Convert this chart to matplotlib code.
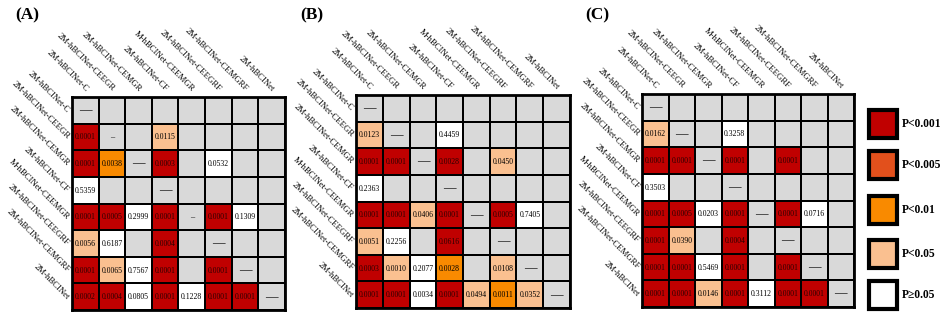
import matplotlib
matplotlib.use("Agg")
import matplotlib.pyplot as plt
from matplotlib.colors import ListedColormap
from matplotlib.patches import Rectangle
import numpy as np

plt.rcParams['font.family'] = ['Liberation Serif', 'DejaVu Serif']

labels = ["2M-hBCINet-C", "2M-hBCINet-CEEGR", "2M-hBCINet-CEMGR", "2M-hBCINet-CF",
          "M-hBCINet-CEEMGR", "2M-hBCINet-CEEGRF", "2M-hBCINet-CEMGRF", "2M-hBCINet"]

# level codes: 0 gray (not compared), 1 P<0.001, 2 P<0.005, 3 P<0.01, 4 P<0.05, 5 P>=0.05
A_text = [
    ["—", "", "", "", "", "", "", ""],
    ["0.0001", "–", "", "0.0115", "", "", "", ""],
    ["0.0001", "0.0038", "—", "0.0003", "", "0.0532", "", ""],
    ["0.5359", "", "", "—", "", "", "", ""],
    ["0.0001", "0.0005", "0.2999", "0.0001", "–", "0.0001", "0.1309", ""],
    ["0.0056", "0.6187", "", "0.0004", "", "—", "", ""],
    ["0.0001", "0.0065", "0.7567", "0.0001", "", "0.0001", "—", ""],
    ["0.0002", "0.0004", "0.0805", "0.0001", "0.1228", "0.0001", "0.0001", "—"],
]
A_level = [
    [0, 0, 0, 0, 0, 0, 0, 0],
    [1, 0, 0, 4, 0, 0, 0, 0],
    [1, 3, 0, 1, 0, 5, 0, 0],
    [5, 0, 0, 0, 0, 0, 0, 0],
    [1, 1, 5, 1, 0, 1, 5, 0],
    [4, 5, 0, 1, 0, 0, 0, 0],
    [1, 4, 5, 1, 0, 1, 0, 0],
    [1, 1, 5, 1, 5, 1, 1, 0],
]

B_text = [
    ["—", "", "", "", "", "", "", ""],
    ["0.0123", "—", "", "0.4459", "", "", "", ""],
    ["0.0001", "0.0001", "—", "0.0028", "", "0.0450", "", ""],
    ["0.2363", "", "", "—", "", "", "", ""],
    ["0.0001", "0.0001", "0.0406", "0.0001", "—", "0.0005", "0.7405", ""],
    ["0.0051", "0.2256", "", "0.0616", "", "—", "", ""],
    ["0.0003", "0.0010", "0.2077", "0.0028", "", "0.0108", "—", ""],
    ["0.0001", "0.0001", "0.0034", "0.0001", "0.0494", "0.0011", "0.0352", "—"],
]
B_level = [
    [0, 0, 0, 0, 0, 0, 0, 0],
    [4, 0, 0, 5, 0, 0, 0, 0],
    [1, 1, 0, 1, 0, 4, 0, 0],
    [5, 0, 0, 0, 0, 0, 0, 0],
    [1, 1, 4, 1, 0, 1, 5, 0],
    [4, 5, 0, 1, 0, 0, 0, 0],
    [1, 4, 5, 3, 0, 4, 0, 0],
    [1, 1, 5, 1, 4, 3, 4, 0],
]

C_text = [
    ["—", "", "", "", "", "", "", ""],
    ["0.0162", "—", "", "0.3258", "", "", "", ""],
    ["0.0001", "0.0001", "—", "0.0001", "", "0.0001", "", ""],
    ["0.3503", "", "", "—", "", "", "", ""],
    ["0.0001", "0.0005", "0.0203", "0.0001", "—", "0.0001", "0.0716", ""],
    ["0.0001", "0.0390", "", "0.0004", "", "—", "", ""],
    ["0.0001", "0.0001", "0.5469", "0.0001", "", "0.0001", "—", ""],
    ["0.0001", "0.0001", "0.0146", "0.0001", "0.3112", "0.0001", "0.0001", "—"],
]
C_level = [
    [0, 0, 0, 0, 0, 0, 0, 0],
    [4, 0, 0, 5, 0, 0, 0, 0],
    [1, 1, 0, 1, 0, 1, 0, 0],
    [5, 0, 0, 0, 0, 0, 0, 0],
    [1, 1, 5, 1, 0, 1, 5, 0],
    [1, 4, 0, 1, 0, 0, 0, 0],
    [1, 1, 5, 1, 0, 1, 0, 0],
    [1, 1, 4, 1, 5, 1, 1, 0],
]

panel_letters = ["(A)", "(B)", "(C)"]
legend_labels = ["P<0.001", "P<0.005", "P<0.01", "P<0.05", "P\u22650.05"]

colors = ["#D9D9D9", "#C00000", "#E2501C", "#F98A00", "#FAC090", "#FFFFFF"]
cmap = ListedColormap(colors)

W, H = 941, 313
fig = plt.figure(figsize=(W / 100, H / 100), dpi=100)


def px_axes(l, t, r, b):
    return fig.add_axes([l / W, 1 - b / H, (r - l) / W, (b - t) / H])


panels = [
    (A_text, A_level, (72, 97, 285, 310), (27, 15)),
    (B_text, B_level, (356, 95, 570, 308), (312, 15)),
    (C_text, C_level, (642, 94, 854, 307), (597, 15)),
]

for k, (txt, lev, box, lpos) in enumerate(panels):
    ax = px_axes(*box)
    lev = np.array(lev)
    n = lev.shape[0]
    ax.pcolormesh(np.arange(n + 1), np.arange(n + 1), lev, cmap=cmap,
                  vmin=-0.5, vmax=5.5, edgecolors="black", linewidth=1.4)
    ax.set_xlim(0, n)
    ax.set_ylim(n, 0)
    ax.set_xticks([])
    ax.set_yticks([])
    for s in ax.spines.values():
        s.set_linewidth(2)
    for i in range(n):
        for j in range(n):
            t = txt[i][j]
            if not t:
                continue
            if t in ("—", "–"):
                ax.text(j + 0.5, i + 0.5, t, ha="center", va="center",
                        fontsize=9 if t == "—" else 6, color="black")
            else:
                ax.text(j + 0.5, i + 0.52, t, ha="center", va="center",
                        fontsize=5.6, color="#2a0000" if lev[i, j] == 1 else "black")
    for j, lab in enumerate(labels):
        ax.text(j + 0.5, -0.2, lab, rotation=-45, rotation_mode="anchor",
                ha="right", va="baseline", fontsize=6.3)
    for i, lab in enumerate(labels):
        ax.text(-0.15, i + 0.55, lab, rotation=-45, rotation_mode="anchor",
                ha="right", va="center", fontsize=6.3)
    fig.text(lpos[0] / W, 1 - lpos[1] / H, panel_letters[k], ha="center",
             va="center", fontsize=12.5, fontweight="bold")

# legend
lax = px_axes(855, 95, 941, 313)
lax.set_xlim(855, 941)
lax.set_ylim(313, 95)
lax.axis("off")
centers = [124, 165, 210, 254, 295]
for idx, (c, lab) in enumerate(zip(centers, legend_labels)):
    lax.add_patch(Rectangle((869, c - 14), 28, 28, facecolor=colors[idx + 1],
                            edgecolor="black", linewidth=3))
    lax.text(902, c, lab, ha="left", va="center", fontsize=8.3,
             fontweight="bold")

fig.savefig("out.png", dpi=100)
